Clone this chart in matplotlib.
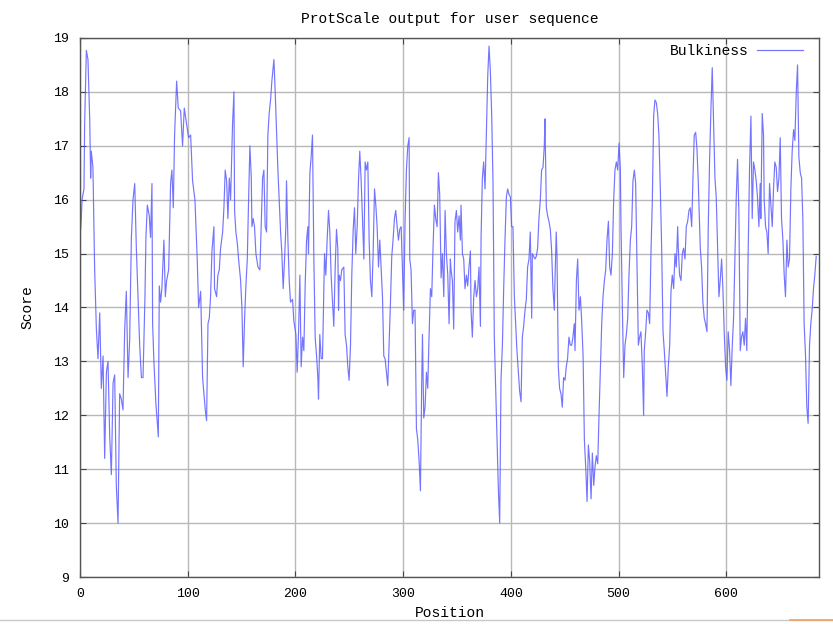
import matplotlib
matplotlib.use("Agg")
import matplotlib.pyplot as plt
from matplotlib.lines import Line2D

# Bulkiness profile (ProtScale, sliding window) - residue position and score
positions = [
    0.6, 1.2, 1.9, 3.7, 4.3, 5.9, 7.4, 9.0, 9.9, 10.5, 12.0, 13.6, 15.2, 16.7, 18.3,
    19.8, 21.4, 22.9, 24.5, 26.0, 27.6, 29.1, 30.7, 32.2, 33.7, 35.3, 36.8, 38.4, 39.9,
    41.5, 43.0, 44.6, 46.1, 47.7, 49.2, 50.8, 52.3, 53.9, 55.4, 57.0,
    58.5, 60.3, 61.2, 62.5, 64.3, 65.5, 66.8, 67.4, 68.6, 70.5, 72.7, 73.6, 74.8, 76.0,
    77.9, 79.2, 80.4, 82.3, 84.1, 85.3, 86.6, 87.8, 89.7, 91.2, 93.4, 95.2, 96.8, 99.0,
    100.8, 102.7, 104.5, 106.7, 108.8, 110.1, 112.0, 113.8, 115.0,
    116.3, 117.5, 118.8, 120.0, 121.2, 122.5, 124.3, 124.9, 126.8, 128.0, 129.3, 130.5,
    132.4, 133.6, 134.8, 136.1, 137.3, 138.6, 139.8, 141.6, 142.9, 143.5, 144.7, 146.0,
    147.2, 149.1, 150.3, 151.5, 152.8, 154.0, 155.3, 156.5, 157.7, 159.0, 159.6, 160.8,
    162.0, 163.3, 165.2, 167.0, 168.2, 169.5, 170.7,
    171.9, 173.2, 174.4, 175.6, 176.9, 178.1, 180.0, 181.2, 182.4, 183.7, 184.9, 186.2,
    187.4, 188.6, 189.9, 191.1, 191.7, 193.0, 194.2, 195.4, 197.3, 198.5, 200.4, 201.6,
    202.9, 204.1, 205.3, 206.6, 207.8, 209.0, 210.3, 211.5, 212.1, 213.4, 214.6, 215.8,
    217.1, 218.3, 219.6, 220.8, 221.4, 222.6, 223.9, 225.1, 227.0, 228.2,
    229.4, 230.7, 231.9, 233.1, 234.4, 235.6, 236.9, 238.1, 239.3, 240.0, 240.6, 241.8,
    243.0, 244.9, 246.1, 247.4, 248.6, 249.8, 251.1, 252.3, 253.6, 254.8, 256.0, 257.3,
    258.5, 259.7, 261.0, 262.2, 263.5, 264.7, 265.9, 267.2, 268.4, 269.6, 270.9, 272.1,
    273.4, 274.6, 275.8, 277.1, 278.3, 279.5, 280.8, 282.0, 283.2, 284.5, 285.7,
    286.9, 288.2, 289.4, 290.6, 291.9, 293.1, 294.4, 295.6, 296.8, 298.1, 299.3, 300.5,
    301.8, 303.0, 304.3, 305.5, 306.1, 307.3, 308.6, 309.8, 311.0, 312.3, 313.5, 314.8,
    316.0, 317.2, 317.9, 319.1, 320.3, 321.6, 322.8, 324.0, 325.3, 326.5, 327.7, 329.0,
    330.2, 331.5, 332.7, 333.9, 335.2, 336.4, 337.7, 338.9, 340.1, 341.4, 342.6, 343.8,
    344.4, 345.7, 346.9, 348.1, 349.4, 350.6, 351.9, 353.1, 353.7, 355.0, 356.2, 357.4,
    358.7, 359.9, 361.1, 362.4, 363.0, 364.2, 365.5, 366.7, 368.0, 369.2, 370.4, 371.7,
    372.3, 373.5, 374.7, 376.0, 377.2, 378.5, 379.7, 380.9, 382.2, 383.4, 384.6, 385.9,
    387.1, 388.4, 389.6, 390.8, 392.1, 393.3, 394.5, 395.8, 397.0, 398.2, 399.5, 400.7,
    401.9, 403.2, 404.4, 405.6, 406.9, 408.1, 409.4, 410.6, 411.8, 413.1, 414.3, 415.5,
    416.8, 418.0, 419.3, 419.9, 421.1, 422.3, 423.6, 424.8, 426.0, 427.3, 428.5, 429.8,
    431.0, 431.6, 432.9, 434.1, 435.3, 436.6, 437.8, 439.0, 440.3, 440.9, 442.1, 442.8,
    444.0, 445.2, 446.5, 447.7, 448.9, 450.2, 451.4, 452.6, 453.9, 455.1, 456.4, 457.6,
    458.8, 459.5, 460.8, 462.0, 463.2, 464.5, 465.7, 467.0, 468.2, 469.4, 470.7, 471.9,
    473.1, 474.4, 475.6, 476.9, 478.1, 479.3, 480.6, 481.8, 483.0, 484.3, 485.5, 486.8,
    488.0, 489.2, 490.5, 491.7, 492.9, 494.2, 495.4, 496.6, 497.9, 499.1, 500.4, 501.6,
    502.2, 503.5, 504.7, 505.9, 507.2, 508.4, 509.6, 510.9, 512.1, 513.3, 514.6, 515.8,
    517.0, 518.3, 519.5, 520.7, 522.0, 523.2, 523.8, 525.1, 526.3, 527.6, 528.8, 530.0,
    531.3, 532.5, 533.7, 535.0, 536.2, 537.4, 538.7, 539.9, 541.2, 542.4, 543.6, 544.9,
    546.1, 547.4, 548.6, 549.8, 551.1, 552.3, 553.5, 554.8, 555.4, 556.6, 557.9, 559.1,
    560.3, 561.6, 562.8, 564.1, 565.3, 566.5, 567.8, 569.0, 570.2, 571.5, 572.7, 573.9,
    575.2, 575.8, 577.0, 578.2, 579.5, 580.7, 582.0, 583.2, 584.4, 585.7, 586.9, 588.1,
    589.4, 590.6, 591.9, 593.1, 594.3, 595.6, 596.8, 598.0, 599.3, 600.5, 601.7, 603.0,
    604.2, 605.5, 606.7, 607.9, 609.2, 610.4, 611.6, 612.9, 614.1, 615.3, 616.6, 617.8,
    619.0, 620.3, 621.5, 622.8, 624.0, 625.2, 626.5, 627.7, 628.9, 630.2, 631.4, 632.0,
    633.3, 634.5, 635.1, 636.4, 637.6, 638.8, 640.1, 641.3, 642.6, 643.8, 645.0, 646.3,
    647.5, 648.8, 650.0, 651.2, 652.5, 653.7, 654.9, 656.2, 657.4, 658.6, 659.9, 661.1,
    662.4, 663.6, 664.9, 666.1, 667.3, 668.6, 669.8, 671.0, 672.2, 673.5, 674.7, 675.9,
    677.2, 678.4, 679.6, 680.9, 682.1, 683.4,
]

scores = [
    15.45, 15.65, 16.0, 16.2, 17.4, 18.77, 18.6, 17.5, 16.4, 16.9, 16.6, 14.7, 13.6, 13.05, 13.9,
    12.5, 13.1, 11.2, 12.8, 13.0, 11.6, 10.9, 12.6, 12.75, 10.7, 10.0, 12.4, 12.3, 12.1,
    13.6, 14.3, 12.7, 13.4, 15.3, 16.0, 16.3, 15.1, 14.2, 13.3, 12.7,
    12.7, 14.2, 15.3, 15.9, 15.7, 15.3, 16.3, 13.7, 13.0, 12.2, 11.6, 14.4, 14.1, 14.35,
    15.25, 14.2, 14.5, 14.7, 16.3, 16.55, 15.85, 17.2, 18.2, 17.7, 17.65, 17.0, 17.7, 17.4,
    17.15, 17.2, 16.35, 16.0, 14.9, 14.0, 14.3, 12.7, 12.4,
    12.1, 11.9, 13.7, 13.8, 14.2, 15.05, 15.5, 14.35, 14.2, 14.6, 14.7, 15.1,
    15.4, 15.85, 16.55, 16.35, 15.65, 16.4, 16.0, 17.4, 18.0, 15.8, 15.4, 15.2,
    14.9, 14.5, 14.0, 12.9, 13.8, 14.4, 14.9, 16.0, 17.0, 16.4, 15.5, 15.65,
    15.5, 15.0, 14.75, 14.7, 15.5, 16.4, 16.55,
    15.5, 15.4, 17.2, 17.6, 17.85, 18.2, 18.6, 18.0, 17.3, 16.55, 16.0, 15.4,
    15.0, 14.35, 14.9, 15.5, 16.35, 15.25, 14.5, 14.1, 14.15, 13.75, 13.5, 12.8,
    13.55, 14.6, 12.9, 13.45, 13.2, 14.4, 15.25, 15.5, 15.0, 16.5, 16.8, 17.2,
    14.9, 13.45, 13.1, 12.7, 12.3, 13.5, 13.05, 13.05, 15.0, 14.6,
    15.25, 15.8, 15.4, 14.6, 14.1, 13.65, 14.75, 15.45, 15.1, 13.95, 14.6, 14.5,
    14.7, 14.75, 13.5, 13.3, 12.9, 12.65, 13.3, 14.6, 15.45, 15.85, 15.0, 15.5,
    16.35, 16.9, 16.35, 15.65, 14.9, 16.7, 16.55, 16.7, 15.25, 14.5, 14.2, 15.0,
    16.2, 15.9, 15.5, 14.75, 15.25, 14.75, 14.2, 13.1, 13.05, 12.8, 12.55,
    13.3, 14.1, 14.95, 15.25, 15.65, 15.8, 15.5, 15.25, 15.45, 15.5, 14.75, 13.95,
    15.65, 16.55, 17.0, 17.15, 14.9, 14.7, 13.7, 13.95, 13.95, 11.75, 11.55, 11.15,
    10.6, 12.6, 13.5, 11.95, 12.15, 12.8, 12.5, 13.45, 14.35, 14.2, 15.1, 15.9,
    15.65, 15.5, 16.5, 16.1, 14.55, 15.0, 14.2, 15.8, 15.0, 14.6, 13.7, 14.9,
    14.7, 14.5, 13.6, 15.6, 15.8, 15.4, 15.7, 15.25, 15.9, 15.0, 14.9, 14.35,
    14.6, 14.4, 14.75, 15.05, 13.95, 13.45, 14.2, 14.5, 14.2, 14.35, 14.75, 13.65,
    15.3, 16.4, 16.7, 16.2, 17.2, 18.3, 18.85, 18.4, 17.55, 16.3, 13.45, 12.5,
    11.55, 10.6, 10.0, 12.65, 13.3, 14.35, 15.25, 16.05, 16.2, 16.1, 16.05, 15.5,
    15.5, 14.2, 13.7, 13.2, 12.8, 12.45, 12.25, 13.45, 13.65, 13.95, 14.15, 14.75,
    14.9, 15.4, 13.8, 15.0, 14.95, 14.9, 14.95, 15.1, 15.65, 16.0, 16.55, 16.6,
    17.0, 17.5, 15.85, 15.7, 15.6, 15.45, 15.05, 14.35, 13.95, 14.5, 15.4, 14.95,
    12.9, 12.5, 12.4, 12.15, 12.7, 12.65, 12.9, 13.05, 13.45, 13.3, 13.3, 13.45,
    13.7, 13.2, 14.5, 14.9, 13.95, 14.2, 13.75, 13.1, 11.55, 11.05, 10.4, 11.45,
    11.15, 10.45, 11.3, 10.7, 11.05, 11.25, 11.1, 12.0, 12.8, 13.7, 14.2, 14.5,
    14.7, 15.25, 15.6, 14.75, 14.6, 15.0, 16.0, 16.55, 16.7, 16.55, 17.05, 16.55,
    15.5, 13.95, 12.7, 13.3, 13.5, 13.8, 14.6, 15.25, 15.5, 16.35, 16.55, 16.3,
    14.9, 13.3, 13.45, 13.55, 12.9, 12.0, 13.2, 13.55, 13.95, 13.9, 13.7, 15.0,
    16.0, 17.55, 17.85, 17.8, 17.6, 17.2, 16.2, 15.15, 13.55, 13.2, 12.8, 12.35,
    12.9, 13.3, 14.3, 14.6, 14.35, 15.0, 14.75, 15.5, 15.1, 14.6, 14.5, 15.0,
    15.1, 14.9, 15.5, 15.6, 15.8, 15.85, 15.5, 16.4, 17.2, 17.25, 16.95, 16.35,
    15.45, 15.1, 14.75, 14.1, 13.8, 13.7, 13.55, 15.5, 16.7, 17.7, 18.45, 17.45,
    16.4, 16.05, 15.1, 14.2, 14.5, 14.9, 14.35, 13.55, 12.9, 12.65, 13.55, 13.2,
    12.55, 13.3, 13.8, 14.9, 16.05, 16.75, 15.8, 13.2, 13.45, 13.55, 13.3, 13.8,
    13.2, 15.1, 16.55, 17.55, 15.65, 16.7, 16.55, 16.35, 16.05, 15.5, 16.3, 15.65,
    17.6, 17.2, 16.0, 15.5, 15.4, 15.0, 16.3, 15.9, 15.5, 16.2, 16.7, 16.6,
    16.15, 16.4, 17.15, 15.65, 15.25, 14.6, 14.2, 15.25, 14.75, 14.9, 16.2, 16.9,
    17.3, 17.1, 18.0, 18.5, 16.8, 16.5, 16.4, 15.65, 13.7, 13.1, 12.15, 11.85,
    13.3, 13.7, 13.95, 14.35, 14.6, 14.95,
]

series_label = "Bulkiness"
x_ticks = [0, 100, 200, 300, 400, 500, 600]
y_ticks = [9, 10, 11, 12, 13, 14, 15, 16, 17, 18, 19]

mono = ["Liberation Mono", "DejaVu Sans Mono"]
plt.rcParams["font.family"] = mono

W, H = 833, 624
L, R, T, B = 80, 819, 38, 577

fig = plt.figure(figsize=(W / 100, H / 100), dpi=100)
ax = fig.add_axes([L / W, 1 - B / H, (R - L) / W, (B - T) / H])

ax.plot(positions, scores, color="#5c5cff", lw=0.85, alpha=0.85, label=series_label)

ax.set_xlim(0, 686)
ax.set_ylim(9, 19)
ax.set_xticks(x_ticks)
ax.set_yticks(y_ticks)
ax.grid(True, color="#b8b8b8", lw=1.0)
ax.set_axisbelow(True)
ax.tick_params(direction="in", length=4, color="#444444", labelsize=9.5,
               top=True, right=True, pad=8)
for side in ax.spines.values():
    side.set_color("#555555")
    side.set_linewidth(1.0)

ax.set_title("ProtScale output for user sequence", fontsize=10.5, pad=11)
ax.set_xlabel("Position", fontsize=10.5, labelpad=4)
ax.set_ylabel("Score", fontsize=10.5, labelpad=13)

ax.legend(loc="upper right", bbox_to_anchor=((809 - L) / (R - L), 1.0),
          borderaxespad=0.0, frameon=False, fontsize=10.5, markerfirst=False,
          handlelength=3.15, handletextpad=0.6)

# thin separator line along the bottom of the canvas
fig.add_artist(Line2D([0, 1], [1 - 620 / H] * 2, color="#c8c8c8", lw=1.0,
                      transform=fig.transFigure))
fig.add_artist(Line2D([790 / W, 1], [1 - 620 / H] * 2, color="#f0a060", lw=1.2,
                      transform=fig.transFigure))

fig.savefig("out.png", dpi=100)
